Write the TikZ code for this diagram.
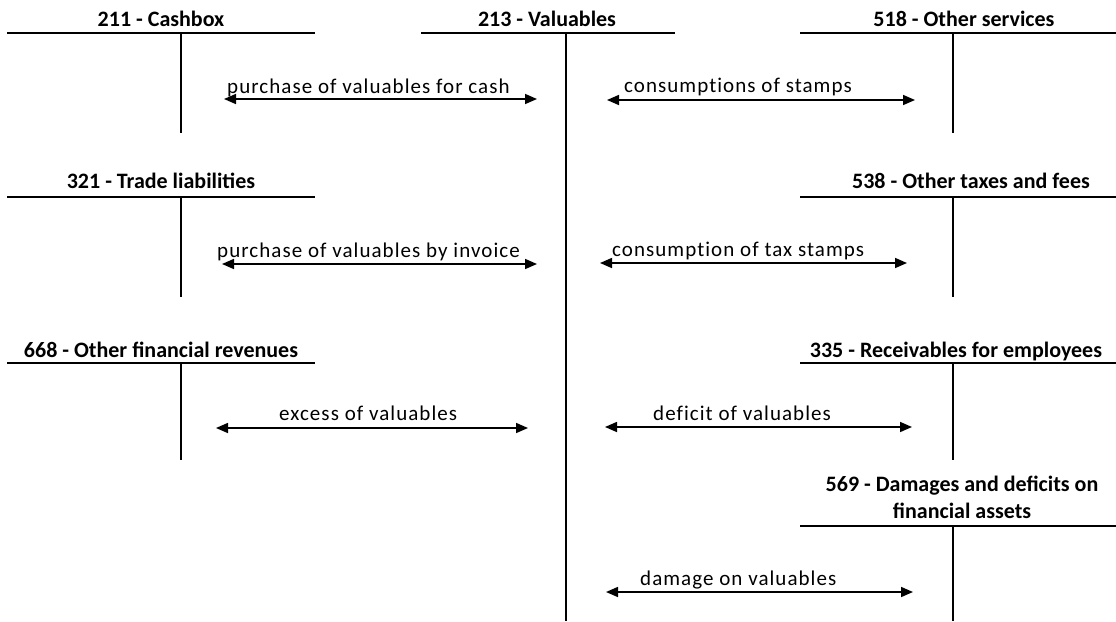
\documentclass[tikz,border=0pt]{standalone}
\usepackage{fontspec}
\setmainfont{Carlito}
\newfontfamily\lblfont[LetterSpace=5,Ligatures=NoCommon]{Carlito}
\usetikzlibrary{arrows.meta}
\begin{document}
\begin{tikzpicture}[x=1pt,y=-1pt,
  tline/.style={line width=2.6pt},
  flow/.style={line width=1.6pt,{Triangle[length=12pt,width=10pt]}-{Triangle[length=12pt,width=10pt]}},
  ttl/.style={font=\fontsize{22}{27}\selectfont\bfseries, anchor=base, inner sep=0pt, align=center},
  lbl/.style={font=\lblfont\fontsize{21}{24}\selectfont, anchor=base west, inner sep=0pt}]
\useasboundingbox (0,0) rectangle (1116,621);

% T-accounts
\node[ttl] (t211) at (161,26) {211 - Cashbox};
\coordinate (h211a) at (7,33); \coordinate (h211b) at (315,33);
\coordinate (v211a) at (181,33); \coordinate (v211b) at (181,133);
\draw[tline] (h211a) -- (h211b); \draw[tline] (v211a) -- (v211b);

\node[ttl] (t213) at (547,26) {213 - Valuables};
\coordinate (h213a) at (421,33); \coordinate (h213b) at (675,33);
\coordinate (v213a) at (566,33); \coordinate (v213b) at (566,621);
\draw[tline] (h213a) -- (h213b); \draw[tline] (v213a) -- (v213b);

\node[ttl] (t518) at (964,26) {518 - Other services};
\coordinate (h518a) at (800,33); \coordinate (h518b) at (1116,33);
\coordinate (v518a) at (953,33); \coordinate (v518b) at (953,133);
\draw[tline] (h518a) -- (h518b); \draw[tline] (v518a) -- (v518b);

\node[ttl] (t321) at (161,188) {321 - Trade liabilities};
\coordinate (h321a) at (7,197); \coordinate (h321b) at (315,197);
\coordinate (v321a) at (181,197); \coordinate (v321b) at (181,297);
\draw[tline] (h321a) -- (h321b); \draw[tline] (v321a) -- (v321b);

\node[ttl] (t538) at (971,188) {538 - Other taxes and fees};
\coordinate (h538a) at (800,197); \coordinate (h538b) at (1116,197);
\coordinate (v538a) at (953,197); \coordinate (v538b) at (953,297);
\draw[tline] (h538a) -- (h538b); \draw[tline] (v538a) -- (v538b);

\node[ttl] (t668) at (161,357) {668 - Other financial revenues};
\coordinate (h668a) at (7,363); \coordinate (h668b) at (315,363);
\coordinate (v668a) at (181,363); \coordinate (v668b) at (181,460);
\draw[tline] (h668a) -- (h668b); \draw[tline] (v668a) -- (v668b);

\node[ttl] (t335) at (956,357) {335 - Receivables for employees};
\coordinate (h335a) at (800,363); \coordinate (h335b) at (1116,363);
\coordinate (v335a) at (953,363); \coordinate (v335b) at (953,460);
\draw[tline] (h335a) -- (h335b); \draw[tline] (v335a) -- (v335b);

\node[ttl] (t569) at (962,518) {569 - Damages and deficits on\\financial assets};
\coordinate (h569a) at (800,526); \coordinate (h569b) at (1116,526);
\coordinate (v569a) at (953,526); \coordinate (v569b) at (953,621);
\draw[tline] (h569a) -- (h569b); \draw[tline] (v569a) -- (v569b);

% flows
\coordinate (a1l) at (224,99); \coordinate (a1r) at (537,99);
\draw[flow] (a1l) -- (a1r);
\node[lbl] (l1) at (227,93) {purchase of valuables for cash};

\coordinate (b1l) at (607,100); \coordinate (b1r) at (915,100);
\draw[flow] (b1l) -- (b1r);
\node[lbl] (l2) at (624,92) {consumptions of stamps};

\coordinate (a2l) at (222,264); \coordinate (a2r) at (537,264);
\draw[flow] (a2l) -- (a2r);
\node[lbl] (l3) at (217,257) {purchase of valuables by invoice};

\coordinate (b2l) at (600,263); \coordinate (b2r) at (907,263);
\draw[flow] (b2l) -- (b2r);
\node[lbl] (l4) at (612,256) {consumption of tax stamps};

\coordinate (a3l) at (216,428); \coordinate (a3r) at (528,428);
\draw[flow] (a3l) -- (a3r);
\node[lbl] (l5) at (279,420) {excess of valuables};

\coordinate (b3l) at (605,427); \coordinate (b3r) at (912,427);
\draw[flow] (b3l) -- (b3r);
\node[lbl] (l6) at (653,420) {deficit of valuables};

\coordinate (b4l) at (606,592); \coordinate (b4r) at (913,592);
\draw[flow] (b4l) -- (b4r);
\node[lbl] (l7) at (640,585) {damage on valuables};
\end{tikzpicture}
\end{document}
